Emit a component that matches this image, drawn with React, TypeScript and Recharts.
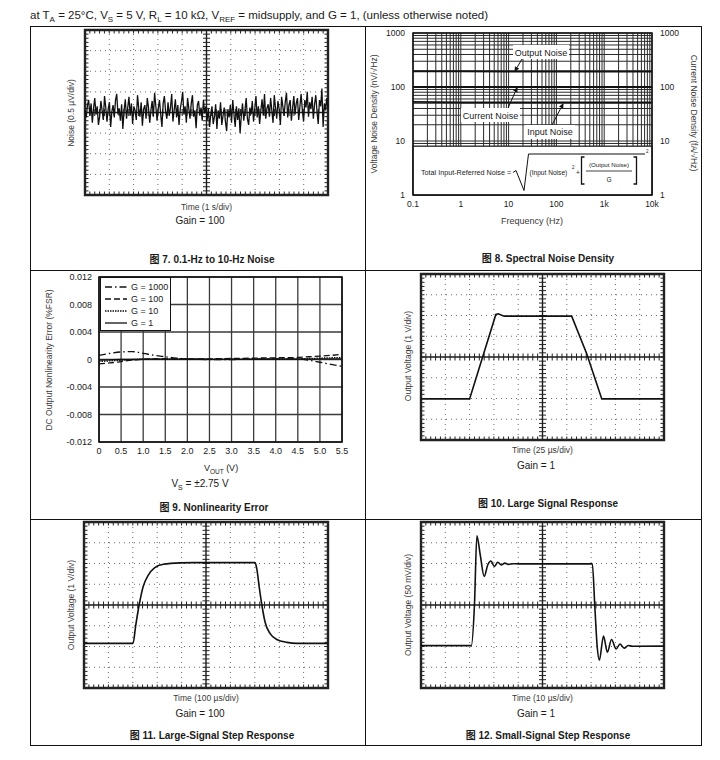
import React from "react";
import {
  LineChart,
  Line,
  XAxis,
  YAxis,
  CartesianGrid,
  ReferenceLine,
  ReferenceArea,
} from "recharts";

const FONT = '"Liberation Sans", Arial, "Noto Sans CJK SC", sans-serif';
const INK = "#1a1a1a";

// Fig 7 - 0.1-Hz to 10-Hz noise, µV, 200 samples across 10 s
const NOISE_UV = [
  0.05, -0.12, 0.18, 0.3, -0.08, 0.22, -0.25, 0.1, 0.35, -0.05, 0.15, -0.3, -0.1, 0.28, 0.05, -0.18, 0.4, 0.12, -0.22, 0.08,
  0.25, -0.35, 0.02, 0.18, -0.12, 0.3, 0.45, -0.05, 0.1, -0.2, 0.2, -0.4, 0.05, 0.32, -0.15, 0.12, 0.38, -0.08, 0.22, -0.28,
  0.15, 0.05, -0.18, 0.42, 0.1, -0.1, 0.25, -0.32, 0.08, 0.18,
  -0.15, 0.35, 0.12, -0.25, 0.05, 0.28, -0.1, 0.48, 0.15, -0.2, 0.1, 0.3, -0.05, -0.35, 0.22, 0.4, 0.02, -0.15, 0.25, -0.08,
  0.12, 0.45, -0.22, 0.05, 0.32, -0.12, 0.18, -0.3, 0.08, 0.26, 0.5, -0.05, 0.15, -0.25, 0.35, 0.1, -0.15, 0.22, 0.42, -0.1,
  0.05, -0.38, 0.18, 0.28, -0.08, 0.12, -0.2, 0.3, -0.02, 0.15,
  -0.2, 0.1, -0.35, -0.05, 0.15, -0.28, -0.1, 0.2, -0.4, 0.05, -0.15, 0.25, -0.3, -0.08, 0.12, -0.22, -0.45, 0.08, -0.12, 0.18,
  -0.25, 0.3, -0.05, -0.35, 0.15, -0.18, 0.1, -0.5, -0.08, 0.22, -0.2, 0.05, 0.35, -0.15, -0.3, 0.12, -0.05, 0.28, -0.22, 0.08,
  0.4, -0.12, 0.15, -0.28, 0.05, 0.32, -0.08, 0.45, -0.15, 0.1,
  0.2, -0.1, 0.35, 0.05, -0.25, 0.42, 0.12, -0.15, 0.28, 0.08, -0.3, 0.38, 0.15, -0.08, 0.25, 0.48, -0.12, 0.18, 0.3, -0.2,
  0.1, 0.4, -0.05, 0.22, 0.35, -0.18, 0.15, 0.45, 0.05, -0.22, 0.3, 0.12, 0.5, -0.1, 0.25, 0.08, 0.38, -0.15, 0.2, 0.42,
  0.02, -0.28, 0.3, 0.15, 0.58, -0.35, 0.22, 0.05, 0.35, 0.1,
];
const NOISE_SPAN_S = 10;

// Fig 8 - spectral noise density
const FREQ_HZ = [0.1, 1, 10, 100, 1000, 10000];
const OUTPUT_NOISE = [195, 194, 193, 193, 193, 193];
const CURRENT_NOISE = [100, 100, 100, 100, 100, 100];
const INPUT_NOISE = [53, 52, 52, 52, 52, 52];
const FREQ_DECADES = [0.1, 1, 10, 100, 1000, 10000];
const FREQ_LABELS = ["0.1", "1", "10", "100", "1k", "10k"];
const DENSITY_DECADES = [1, 10, 100, 1000];
const DENSITY_LABELS = ["1", "10", "100", "1000"];

// Fig 9 - nonlinearity error, %FSR
const VOUT_V = [0, 0.25, 0.5, 0.75, 1.0, 1.25, 1.5, 1.75, 2.0, 2.5, 3.0, 3.5, 4.0, 4.5, 4.75, 5.0, 5.25, 5.5];
const ERR_G1000 = [0.0006, 0.0009, 0.0011, 0.00115, 0.0009, 0.0006, 0.0004, 0.0002, 0.0001, 0, 0, 0.00005, 0.0001, 0.0001, -0.0001, -0.0004, -0.0007, -0.001];
const ERR_G100 = [-0.00065, -0.0005, -0.0003, -0.0001, 0, 0.0001, 0.0001, 0.0001, 0.0001, 0.0001, 0.00015, 0.0002, 0.00025, 0.0003, 0.0004, 0.0005, 0.0006, 0.00075];
const ERR_G10 = [-0.0003, -0.0002, -0.0001, 0, 0.00005, 0.00005, 0.00005, 0.00005, 0.00005, 0.00005, 0.00005, 0.00008, 0.0001, 0.0001, 0.00015, 0.0002, 0.00025, 0.0003];
const ERR_G1 = [-0.0001, -0.00005, 0, 0, 0.00005, 0.00005, 0.00005, 0.00005, 0.00005, 0.00003, 0.00003, 0.00003, 0.00005, 0.00005, 0.00005, 0.00008, 0.0001, 0.0001];
const VOUT_TICKS = [0, 0.5, 1.0, 1.5, 2.0, 2.5, 3.0, 3.5, 4.0, 4.5, 5.0, 5.5];
const ERR_TICKS = [-0.012, -0.008, -0.004, 0, 0.004, 0.008, 0.012];

// Fig 10 - large signal response, G = 1 (25 µs/div, 1 V/div)
const LS_T_US = [0, 50, 77, 79.5, 85.5, 155, 170.5, 186, 250];
const LS_V = [-2.02, -2.02, 2.05, 2.08, 1.97, 1.97, 0.16, -2.02, -2.02];

// Fig 11 - large-signal step response, G = 100 (100 µs/div, 1 V/div)
const STEP_T_US = [0, 201, 212, 226, 242, 263, 290, 325, 393, 450, 701, 708, 719, 729, 742, 763, 790, 832, 873, 1000];
const STEP_V = [-1.85, -1.85, -0.98, 0, 0.87, 1.43, 1.8, 1.96, 2.03, 2.04, 2.04, 1.75, 0.79, 0, -0.82, -1.38, -1.66, -1.8, -1.85, -1.85];

// Fig 12 - small-signal step response, G = 1 (10 µs/div, 50 mV/div)
const SS_T_US = [0, 20.7, 22.0, 23.0, 24.4, 26.0, 27.5, 28.8, 30.2, 31.6, 33.0, 34.5, 36.0, 38.0, 40.0, 70.5, 71.5, 72.5, 73.4, 75.1, 76.7, 78.4, 80.3, 81.9, 83.6, 85.3, 87.0, 100];
const SS_MV = [-98, -98, 0, 167, 120, 69, 97, 106, 93, 103, 96.5, 101, 98, 99.5, 99, 99, 0, -100, -133, -75, -114, -83, -106, -94, -104, -97.5, -99.5, -99];

const noiseData = NOISE_UV.map((v, i) => ({ t: (i * NOISE_SPAN_S) / (NOISE_UV.length - 1), v }));
const lsData = LS_T_US.map((t, i) => ({ t, v: LS_V[i] }));
const stepData = STEP_T_US.map((t, i) => ({ t, v: STEP_V[i] }));
const ssData = SS_T_US.map((t, i) => ({ t, v: SS_MV[i] }));
const spectralData = FREQ_HZ.map((f, i) => ({
  f,
  out: OUTPUT_NOISE[i],
  cur: CURRENT_NOISE[i],
  inp: INPUT_NOISE[i],
}));
const nonlinData = VOUT_V.map((v, i) => ({
  v,
  g1000: ERR_G1000[i],
  g100: ERR_G100[i],
  g10: ERR_G10[i],
  g1: ERR_G1[i],
}));

const NONLIN_SERIES = [
  { key: "g1000", name: "G = 1000", dash: "7 3 1.5 3" },
  { key: "g100", name: "G = 100", dash: "6 3" },
  { key: "g10", name: "G = 10", dash: "1.5 1" },
  { key: "g1", name: "G = 1", dash: undefined },
];

// log grid: 1..9 in each decade
const logGrid = (decades: number[]) =>
  decades
    .slice(0, -1)
    .flatMap((d) => [1, 2, 3, 4, 5, 6, 7, 8, 9].map((m) => +(m * d).toPrecision(3)))
    .concat(decades[decades.length - 1]);
const FREQ_GRID = logGrid(FREQ_DECADES);
const DENSITY_GRID = logGrid(DENSITY_DECADES);

const labelFor = (decades: number[], labels: string[]) => (v: number) => {
  const i = decades.findIndex((d) => Math.abs(d - v) / d < 1e-6);
  return i >= 0 ? labels[i] : "";
};

function Txt({
  x,
  y,
  size = 9,
  bold = false,
  anchor = "middle",
  rotate = 0,
  color = INK,
  children,
}: {
  x: number;
  y: number;
  size?: number;
  bold?: boolean;
  anchor?: "start" | "middle" | "end";
  rotate?: number;
  color?: string;
  children: React.ReactNode;
}) {
  const tx = anchor === "start" ? "0" : anchor === "end" ? "-100%" : "-50%";
  return (
    <div
      style={{
        position: "absolute",
        left: x,
        top: y,
        transform: `translate(${tx}, -50%) rotate(${rotate}deg)`,
        fontSize: size,
        fontWeight: bold ? 700 : 400,
        color,
        whiteSpace: "nowrap",
        lineHeight: 1,
      }}
    >
      {children}
    </div>
  );
}

const X_DIVS = [0, 1, 2, 3, 4, 5, 6, 7, 8, 9, 10];
const Y_DIVS = [-4, -3, -2, -1, 0, 1, 2, 3, 4];
const MINOR_X = Array.from({ length: 51 }, (_, i) => i / 5);
const MINOR_Y = Array.from({ length: 41 }, (_, i) => -4 + i / 5);

interface ScopeProps {
  left: number;
  top: number;
  width: number;
  height: number;
  data: { t: number; v: number }[];
  xDiv: number;
  yDiv: number;
  curve?: "linear" | "monotone";
  strokeWidth?: number;
}

// oscilloscope-style graticule: 10 x 8 divisions, dotted grid, centre cross with minor ticks
function Scope({ left, top, width, height, data, xDiv, yDiv, curve = "linear", strokeWidth = 1.6 }: ScopeProps) {
  const pad = 3;
  const xMax = 10 * xDiv;
  const yMax = 4 * yDiv;
  const xc = 5 * xDiv;
  const tickY = (3.5 / (height / 8)) * yDiv;
  const tickX = (3.5 / (width / 10)) * xDiv;
  const grid = "#6a6a6a";
  const tick = "#222";
  return (
    <div style={{ position: "absolute", left: left - pad, top: top - pad }}>
      <LineChart
        width={width + 2 * pad}
        height={height + 2 * pad}
        data={data}
        margin={{ top: pad, right: pad, bottom: pad, left: pad }}
      >
        <XAxis dataKey="t" type="number" domain={[0, xMax]} hide />
        <YAxis type="number" domain={[-yMax, yMax]} hide allowDataOverflow />
        {X_DIVS.filter((d) => d > 0 && d < 10 && d !== 5).map((d) => (
          <ReferenceLine key={`gx${d}`} x={d * xDiv} stroke={grid} strokeDasharray="1 4" />
        ))}
        {Y_DIVS.filter((d) => d > -4 && d < 4 && d !== 0).map((d) => (
          <ReferenceLine key={`gy${d}`} y={d * yDiv} stroke={grid} strokeDasharray="1 4" />
        ))}
        <ReferenceLine x={xc} stroke="#1a1a1a" strokeWidth={1.4} />
        <ReferenceLine y={0} stroke="#1a1a1a" strokeWidth={1.4} />
        {MINOR_X.map((m) => (
          <React.Fragment key={`mx${m}`}>
            <ReferenceLine segment={[{ x: m * xDiv, y: yMax }, { x: m * xDiv, y: yMax - tickY }]} stroke={tick} ifOverflow="visible" />
            <ReferenceLine segment={[{ x: m * xDiv, y: -yMax }, { x: m * xDiv, y: -yMax + tickY }]} stroke={tick} ifOverflow="visible" />
            <ReferenceLine segment={[{ x: m * xDiv, y: -tickY }, { x: m * xDiv, y: tickY }]} stroke={tick} ifOverflow="visible" />
          </React.Fragment>
        ))}
        {MINOR_Y.map((m) => (
          <React.Fragment key={`my${m}`}>
            <ReferenceLine segment={[{ x: 0, y: m * yDiv }, { x: tickX, y: m * yDiv }]} stroke={tick} ifOverflow="visible" />
            <ReferenceLine segment={[{ x: xMax - tickX, y: m * yDiv }, { x: xMax, y: m * yDiv }]} stroke={tick} ifOverflow="visible" />
            <ReferenceLine segment={[{ x: xc - tickX, y: m * yDiv }, { x: xc + tickX, y: m * yDiv }]} stroke={tick} ifOverflow="visible" />
          </React.Fragment>
        ))}
        <ReferenceArea x1={0} x2={xMax} y1={-yMax} y2={yMax} fill="none" stroke="#222" strokeWidth={2.4} ifOverflow="visible" />
        <Line
          dataKey="v"
          type={curve}
          stroke="#111"
          strokeWidth={strokeWidth}
          dot={false}
          isAnimationActive={false}
        />
      </LineChart>
    </div>
  );
}

function SpectralChart() {
  const tickStyle = { fontSize: 8.5, fill: INK };
  return (
    <div style={{ position: "absolute", left: 360, top: 20 }}>
      <LineChart width={360} height={250} data={spectralData} margin={{ top: 13, right: 0, bottom: 0, left: 0 }}>
        <CartesianGrid yAxisId="l" stroke="#2a2a2a" strokeWidth={1} />
        <XAxis
          dataKey="f"
          type="number"
          scale="log"
          domain={[0.1, 10000]}
          ticks={FREQ_GRID}
          interval={0}
          tickFormatter={labelFor(FREQ_DECADES, FREQ_LABELS)}
          axisLine={false}
          tickLine={false}
          tickSize={0}
          tickMargin={6}
          height={75}
          tick={tickStyle}
        />
        <YAxis
          yAxisId="l"
          type="number"
          scale="log"
          domain={[1, 1000]}
          ticks={DENSITY_GRID}
          interval={0}
          tickFormatter={labelFor(DENSITY_DECADES, DENSITY_LABELS)}
          axisLine={false}
          tickLine={false}
          tickSize={0}
          tickMargin={8}
          width={53}
          tick={tickStyle}
        />
        <YAxis
          yAxisId="r"
          orientation="right"
          type="number"
          scale="log"
          domain={[1, 1000]}
          ticks={DENSITY_GRID}
          interval={0}
          tickFormatter={labelFor(DENSITY_DECADES, DENSITY_LABELS)}
          axisLine={false}
          tickLine={false}
          tickSize={0}
          tickMargin={8}
          width={68}
          tick={tickStyle}
        />
        <ReferenceArea yAxisId="l" x1={0.1} x2={10000} y1={1} y2={8} fill="#fff" fillOpacity={1} stroke="#111" />
        <ReferenceArea yAxisId="l" x1={0.1} x2={10000} y1={1} y2={1000} fill="none" stroke="#111" strokeWidth={1.5} />
        <Line yAxisId="l" dataKey="out" stroke="#111" strokeWidth={1.8} dot={false} isAnimationActive={false} />
        {/* current noise is read on the right-hand fA/√Hz axis */}
        <Line yAxisId="r" dataKey="cur" stroke="#111" strokeWidth={1.8} dot={false} isAnimationActive={false} />
        <Line yAxisId="l" dataKey="inp" stroke="#111" strokeWidth={1.8} dot={false} isAnimationActive={false} />
      </LineChart>
    </div>
  );
}

function NonlinearityChart() {
  const tickStyle = { fontSize: 9, fill: INK };
  return (
    <div style={{ position: "absolute", left: 30, top: 270 }}>
      <LineChart width={335} height={249} data={nonlinData} margin={{ top: 7, right: 23, bottom: 0, left: 0 }}>
        <CartesianGrid stroke="#3a3a3a" strokeWidth={1.3} />
        <XAxis
          dataKey="v"
          type="number"
          domain={[0, 5.5]}
          ticks={VOUT_TICKS}
          interval={0}
          tickFormatter={(v: number) => (v === 0 ? "0" : v.toFixed(1))}
          axisLine={false}
          tickLine={false}
          tickSize={0}
          tickMargin={6}
          height={77}
          tick={tickStyle}
        />
        <YAxis
          type="number"
          domain={[-0.012, 0.012]}
          ticks={ERR_TICKS}
          interval={0}
          tickFormatter={(v: number) => (v === 0 ? "0" : v.toFixed(3))}
          axisLine={false}
          tickLine={false}
          tickSize={0}
          tickMargin={7}
          width={69}
          tick={tickStyle}
        />
        <ReferenceArea x1={0} x2={5.5} y1={-0.012} y2={0.012} fill="none" stroke="#111" strokeWidth={1.6} />
        {NONLIN_SERIES.map((s) => (
          <Line
            key={s.key}
            dataKey={s.key}
            type="monotone"
            stroke="#111"
            strokeWidth={1.3}
            strokeDasharray={s.dash}
            dot={false}
            isAnimationActive={false}
          />
        ))}
      </LineChart>
      <div
        style={{
          position: "absolute",
          left: 70,
          top: 7,
          width: 71,
          height: 54,
          background: "#fff",
          border: "1px solid #111",
          boxSizing: "border-box",
        }}
      >
        {NONLIN_SERIES.map((s, i) => (
          <div key={s.key} style={{ position: "absolute", left: 4, top: 4 + i * 12, height: 10, display: "flex", alignItems: "center" }}>
            <svg width={22} height={10}>
              <line x1={0} y1={5} x2={22} y2={5} stroke="#111" strokeWidth={1.3} strokeDasharray={s.dash} />
            </svg>
            <span style={{ fontSize: 9, marginLeft: 4, color: INK, lineHeight: 1 }}>{s.name}</span>
          </div>
        ))}
      </div>
    </div>
  );
}

function Overlay() {
  const s = "#111";
  return (
    <svg width={720} height={760} style={{ position: "absolute", left: 0, top: 0, pointerEvents: "none" }}>
      {/* table frame */}
      <rect x={30.5} y={26.5} width={671} height={719} fill="none" stroke={s} strokeWidth={1} />
      <line x1={365.5} y1={26} x2={365.5} y2={746} stroke={s} />
      <line x1={30} y1={270.5} x2={702} y2={270.5} stroke={s} />
      <line x1={30} y1={519.5} x2={702} y2={519.5} stroke={s} />

      {/* fig 8 callouts */}
      <defs>
        <marker id="arr" viewBox="0 0 6 6" refX={5} refY={3} markerWidth={5} markerHeight={5} orient="auto">
          <path d="M0,0 L6,3 L0,6 z" fill={s} />
        </marker>
      </defs>
      <line x1={522} y1={59} x2={515} y2={71} stroke={s} strokeWidth={1} markerEnd="url(#arr)" />
      <line x1={508} y1={108} x2={517} y2={88} stroke={s} strokeWidth={1} markerEnd="url(#arr)" />
      <line x1={552} y1={125} x2={563} y2={104} stroke={s} strokeWidth={1} markerEnd="url(#arr)" />
      <rect x={513} y={45} width={56} height={14} fill="#fff" />
      <rect x={461} y={108} width={59} height={14} fill="#fff" />
      <rect x={525} y={125} width={50} height={14} fill="#fff" />
      <g fontSize={9} fill={INK} fontFamily={FONT} textAnchor="middle">
        <text x={541} y={55.5}>Output Noise</text>
        <text x={490.5} y={118.5}>Current Noise</text>
        <text x={550} y={135}>Input Noise</text>
      </g>

      {/* fig 8 formula */}
      <g fontFamily={FONT} fill={INK}>
        <text x={421} y={174.5} fontSize={7.2}>Total Input-Referred Noise =</text>
        <path d="M513,172.5 L516,170.5 L524,190.5 L528.5,154 L645,154" fill="none" stroke={s} strokeWidth={1} />
        <text x={529.5} y={174.5} fontSize={6.6}>(Input Noise)</text>
        <text x={572} y={169} fontSize={4.5}>2</text>
        <text x={576} y={174.5} fontSize={6.6}>+</text>
        <path d="M584.5,157 L581.5,157 L581.5,184 L584.5,184" fill="none" stroke={s} strokeWidth={1.3} />
        <text x={609} y={167} fontSize={6.2} textAnchor="middle">(Output Noise)</text>
        <line x1={586} y1={171} x2={632} y2={171} stroke={s} strokeWidth={0.8} />
        <text x={609} y={181.5} fontSize={6.6} textAnchor="middle">G</text>
        <path d="M633.5,157 L636.5,157 L636.5,184 L633.5,184" fill="none" stroke={s} strokeWidth={1.3} />
        <text x={646} y={153} fontSize={4.5}>2</text>
      </g>
    </svg>
  );
}

export default function App() {
  const axisTitle = "#3a3a3a";
  return (
    <div
      style={{
        position: "absolute",
        left: 0,
        top: 0,
        width: 720,
        height: 760,
        background: "#fff",
        fontFamily: FONT,
        color: INK,
      }}
    >
      <Txt x={30} y={17} size={11.5} anchor="start">
        at T<sub style={{ fontSize: 8 }}>A</sub> = 25°C, V<sub style={{ fontSize: 8 }}>S</sub> = 5 V, R
        <sub style={{ fontSize: 8 }}>L</sub> = 10 kΩ, V<sub style={{ fontSize: 8 }}>REF</sub> = midsupply, and G = 1,
        (unless otherwise noted)
      </Txt>

      {/* Fig 7 */}
      <Scope left={85} top={30} width={243} height={165} data={noiseData} xDiv={1} yDiv={0.5} strokeWidth={1.3} />
      <Txt x={71} y={113} size={8.5} rotate={-90} color={axisTitle}>Noise (0.5 µV/div)</Txt>
      <Txt x={206.5} y={207} size={8.5} color={axisTitle}>Time (1 s/div)</Txt>
      <Txt x={200} y={221} size={10}>Gain = 100</Txt>
      <Txt x={212} y={260} size={10} bold>图 7. 0.1-Hz to 10-Hz Noise</Txt>

      {/* Fig 8 */}
      <SpectralChart />
      <Txt x={373.5} y={114} size={8.5} rotate={-90} color={axisTitle}>Voltage Noise Density (nV/√Hz)</Txt>
      <Txt x={693.5} y={113} size={8.5} rotate={90} color={axisTitle}>Current Noise Density (fA/√Hz)</Txt>
      <Txt x={532} y={221} size={9} color={axisTitle}>Frequency (Hz)</Txt>
      <Txt x={548} y={259} size={10} bold>图 8. Spectral Noise Density</Txt>

      {/* Fig 9 */}
      <NonlinearityChart />
      <Txt x={49} y={360} size={8.5} rotate={-90} color={axisTitle}>DC Output Nonlinearity Error (%FSR)</Txt>
      <Txt x={221} y={470} size={9}>
        V<sub style={{ fontSize: 6.5 }}>OUT</sub> (V)
      </Txt>
      <Txt x={200} y={485} size={10}>
        V<sub style={{ fontSize: 7 }}>S</sub> = ±2.75 V
      </Txt>
      <Txt x={214} y={508} size={10} bold>图 9. Nonlinearity Error</Txt>

      {/* Fig 10 */}
      <Scope left={421} top={274} width={243} height={166} data={lsData} xDiv={25} yDiv={1} />
      <Txt x={407.5} y={356} size={8.5} rotate={-90} color={axisTitle}>Output Voltage (1 V/div)</Txt>
      <Txt x={542.5} y={450} size={8.5} color={axisTitle}>Time (25 µs/div)</Txt>
      <Txt x={536} y={465.5} size={10}>Gain = 1</Txt>
      <Txt x={548} y={503.5} size={10} bold>图 10. Large Signal Response</Txt>

      {/* Fig 11 */}
      <Scope left={84} top={522} width={244} height={166} data={stepData} xDiv={100} yDiv={1} curve="monotone" />
      <Txt x={71} y={605} size={8.5} rotate={-90} color={axisTitle}>Output Voltage (1 V/div)</Txt>
      <Txt x={206} y={698} size={8.5} color={axisTitle}>Time (100 µs/div)</Txt>
      <Txt x={200} y={713.5} size={10}>Gain = 100</Txt>
      <Txt x={212} y={736} size={10} bold>图 11. Large-Signal Step Response</Txt>

      {/* Fig 12 */}
      <Scope left={421} top={522} width={243} height={166} data={ssData} xDiv={10} yDiv={50} curve="monotone" />
      <Txt x={407.5} y={605} size={8.5} rotate={-90} color={axisTitle}>Output Voltage (50 mV/div)</Txt>
      <Txt x={542.5} y={698} size={8.5} color={axisTitle}>Time (10 µs/div)</Txt>
      <Txt x={536} y={713.5} size={10}>Gain = 1</Txt>
      <Txt x={548} y={736} size={10} bold>图 12. Small-Signal Step Response</Txt>

      <Overlay />
    </div>
  );
}
